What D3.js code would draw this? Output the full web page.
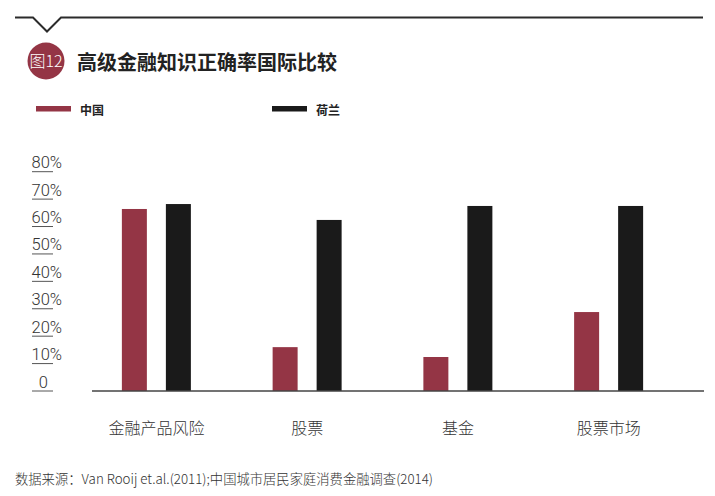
<!DOCTYPE html>
<html>
<head>
<meta charset="utf-8">
<script src="https://cdn.jsdelivr.net/npm/d3@7"></script>
<style>
  html, body { margin: 0; padding: 0; background: #fff; }
  svg { display: block; font-family: "Liberation Sans", "Noto Sans CJK SC", sans-serif; }
</style>
</head>
<body>
<div id="chart"></div>
<script>
// data
const categories = ["金融产品风险", "股票", "基金", "股票市场"];
const series = ["中国", "荷兰"];
const chinaValues = [0.664, 0.16, 0.124, 0.288];
const dutchValues = [0.682, 0.624, 0.675, 0.675];
const yTicks = [0, 0.1, 0.2, 0.3, 0.4, 0.5, 0.6, 0.7, 0.8];
const colors = ["#943545", "#1a1a1a"];

const width = 715, height = 496;
const cjk = "'Noto Sans CJK SC', sans-serif";

const svg = d3.select("#chart").append("svg")
    .attr("width", width)
    .attr("height", height);

// header line with the little notch
svg.append("path")
    .attr("d", "M15,17.5H33L47,31.5L61,17.5H703")
    .attr("fill", "none")
    .attr("stroke", "#2b2b2b")
    .attr("stroke-width", 2);

// badge + title
svg.append("circle")
    .attr("cx", 46).attr("cy", 61).attr("r", 18.5)
    .attr("fill", colors[0]);
svg.append("text")
    .attr("x", 46).attr("y", 67)
    .attr("text-anchor", "middle")
    .attr("fill", "#fff")
    .style("font-family", cjk)
    .style("font-size", "16px")
    .style("font-weight", "300")
    .text("图12");
svg.append("text")
    .attr("x", 77).attr("y", 70)
    .attr("fill", "#222")
    .style("font-family", cjk)
    .style("font-size", "20px")
    .style("font-weight", "bold")
    .text("高级金融知识正确率国际比较");

// legend
const legendX = [36, 272];
const legend = svg.append("g").selectAll("g")
    .data(series)
    .enter().append("g")
    .attr("transform", (d, i) => `translate(${legendX[i]},106)`);
legend.append("rect")
    .attr("width", 35).attr("height", 5.5)
    .attr("fill", (d, i) => colors[i]);
legend.append("text")
    .attr("x", 44).attr("y", 8.5)
    .attr("fill", "#222")
    .style("font-family", cjk)
    .style("font-size", "12px")
    .style("font-weight", "bold")
    .text(d => d);

// scales
const y = d3.scaleLinear().domain([0, 0.8]).range([391, 171.7]);
const x0 = d3.scaleBand().domain(categories).range([81, 684]);
const x1 = d3.scaleBand().domain(series).range([-34.5, 34.5]).paddingInner(0.432);

// y axis: label sitting on a short underline
const yAxis = svg.append("g").selectAll("g")
    .data(yTicks)
    .enter().append("g")
    .attr("transform", d => `translate(0,${y(d)})`);
yAxis.append("line")
    .attr("x1", 32).attr("x2", 53)
    .attr("stroke", "#555")
    .attr("stroke-width", 1);
yAxis.append("text")
    .attr("x", d => d === 0 ? 48 : 62)
    .attr("y", -3.5)
    .attr("text-anchor", "end")
    .attr("fill", "#333")
    .style("font-family", "Roboto, 'Liberation Sans', sans-serif")
    .style("font-size", "16.5px")
    .style("font-weight", "300")
    .text(d => d === 0 ? "0" : d3.format(".0%")(d));

// bars
const rows = categories.map((c, i) => ({ cat: c, vals: [chinaValues[i], dutchValues[i]] }));
const group = svg.append("g").selectAll("g")
    .data(rows)
    .enter().append("g")
    .attr("transform", d => `translate(${x0(d.cat) + x0.bandwidth() / 2},0)`);
group.selectAll("rect")
    .data(d => d.vals.map((v, i) => ({ key: series[i], value: v, i: i })))
    .enter().append("rect")
    .attr("x", d => x1(d.key))
    .attr("width", x1.bandwidth())
    .attr("y", d => y(d.value))
    .attr("height", d => y(0) - y(d.value))
    .attr("fill", d => colors[d.i]);

// baseline
svg.append("line")
    .attr("x1", 92).attr("x2", 704)
    .attr("y1", y(0)).attr("y2", y(0))
    .attr("stroke", "#444")
    .attr("stroke-width", 1.5);

// category labels
group.append("text")
    .attr("y", 434)
    .attr("text-anchor", "middle")
    .attr("fill", "#333")
    .style("font-family", cjk)
    .style("font-size", "16px")
    .style("font-weight", "300")
    .text(d => d.cat);

// source note
svg.append("text")
    .attr("x", 15).attr("y", 484)
    .attr("fill", "#333")
    .attr("textLength", 418)
    .attr("lengthAdjust", "spacingAndGlyphs")
    .style("font-family", cjk)
    .style("font-size", "13.5px")
    .style("font-weight", "300")
    .text("数据来源：Van Rooij et.al.(2011);中国城市居民家庭消费金融调查(2014)");
</script>
</body>
</html>
